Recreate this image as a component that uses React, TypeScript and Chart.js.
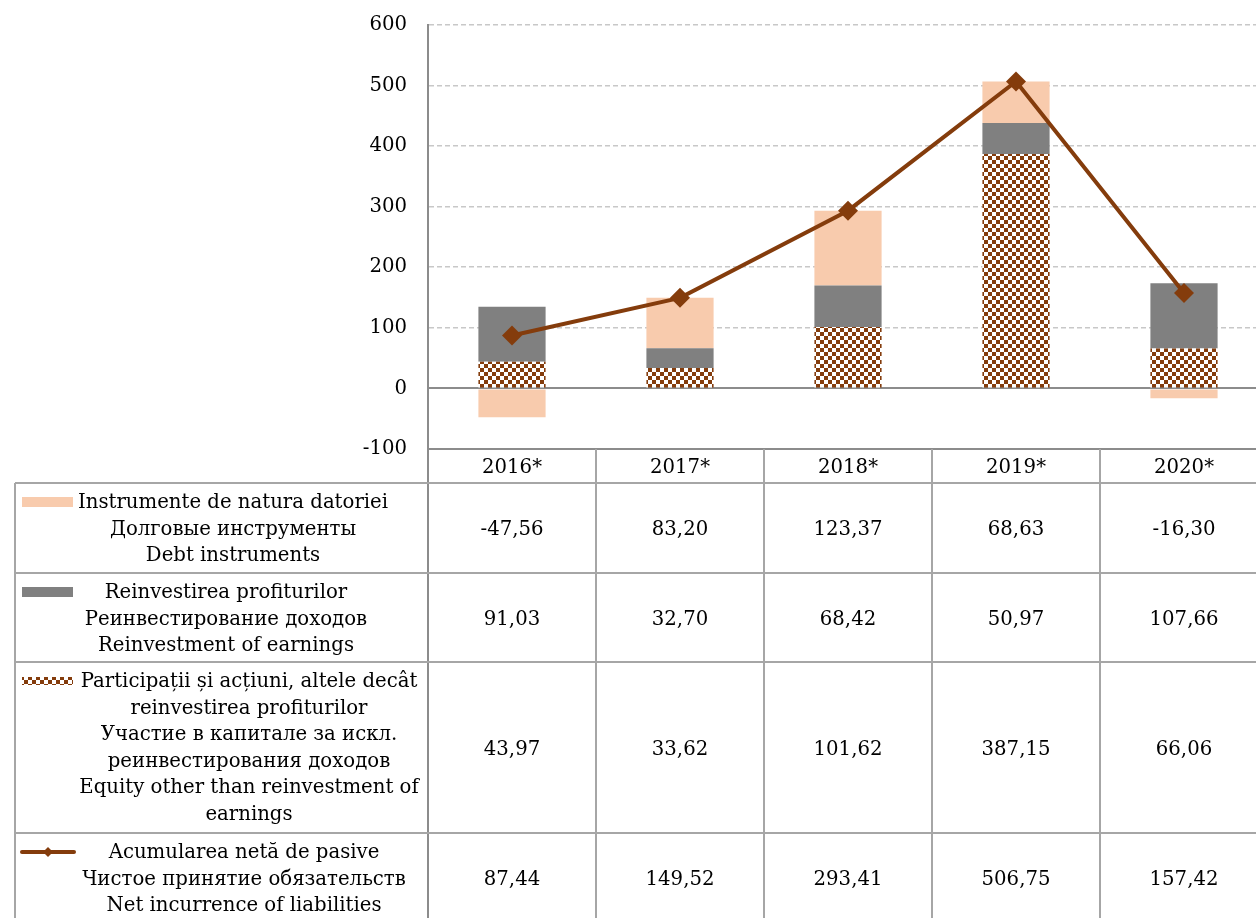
import React, { useEffect, useRef } from "react";
import { Chart, registerables } from "chart.js";

Chart.register(...registerables);

const categories = ["2016*", "2017*", "2018*", "2019*", "2020*"];
const debtInstruments = [-47.56, 83.2, 123.37, 68.63, -16.3];
const reinvestmentOfEarnings = [91.03, 32.7, 68.42, 50.97, 107.66];
const equityOther = [43.97, 33.62, 101.62, 387.15, 66.06];
const netIncurrence = [87.44, 149.52, 293.41, 506.75, 157.42];

const yMin = -100;
const yMax = 600;
const yStep = 100;

const debtLabel = ["Instrumente de natura datoriei", "Долговые инструменты", "Debt instruments"];
const reinvestLabel = ["Reinvestirea profiturilor", "Реинвестирование доходов", "Reinvestment of earnings"];
const equityLabel = [
  "Participații și acțiuni, altele decât",
  "reinvestirea profiturilor",
  "Участие в капитале за искл.",
  "реинвестирования доходов",
  "Equity other than reinvestment of",
  "earnings",
];
const netLabel = ["Acumularea netă de pasive", "Чистое принятие обязательств", "Net incurrence of liabilities"];

const COLOR_DEBT = "#F8CBAD";
const COLOR_REINV = "#808080";
const COLOR_BROWN = "#843C0C";
const FONT_FAMILY = "'DejaVu Serif', serif";
const FONT_SIZE = 19.7;

function makePattern(): CanvasPattern | string {
  const c = document.createElement("canvas");
  const s = 4;
  c.width = s * 2;
  c.height = s * 2;
  const g = c.getContext("2d");
  if (!g) return COLOR_BROWN;
  g.fillStyle = "#ffffff";
  g.fillRect(0, 0, s * 2, s * 2);
  g.fillStyle = COLOR_BROWN;
  g.fillRect(0, 0, s, s);
  g.fillRect(s, s, s, s);
  const p = g.createPattern(c, "repeat");
  return p || COLOR_BROWN;
}

const fmt = (v: number) => v.toFixed(2).replace(".", ",");

export default function App() {
  const ref = useRef<HTMLCanvasElement | null>(null);

  useEffect(() => {
    const canvas = ref.current;
    if (!canvas) return;
    const pattern = makePattern();

    const rows = [
      { label: debtLabel, values: debtInstruments, key: "rect", color: COLOR_DEBT, cx: 233 },
      { label: reinvestLabel, values: reinvestmentOfEarnings, key: "rect", color: COLOR_REINV, cx: 226 },
      { label: equityLabel, values: equityOther, key: "pattern", color: pattern, cx: 249 },
      { label: netLabel, values: netIncurrence, key: "line", color: COLOR_BROWN, cx: 244 },
    ];

    const tablePlugin = {
      id: "dataTable",
      afterDraw(chart: any) {
        const { ctx, chartArea, scales } = chart;
        const xs = scales.x;
        const n = categories.length;
        const colW = xs.getPixelForValue(1) - xs.getPixelForValue(0);
        const left0 = xs.getPixelForValue(0) - colW / 2;
        const top = chartArea.bottom;
        const rowTops = [top + 34, top + 124, top + 213, top + 384];
        const bottom = chart.height + 20;
        const tableLeft = 15;
        const right = left0 + n * colW;

        ctx.save();
        const line = (x1: number, y1: number, x2: number, y2: number) => {
          ctx.beginPath();
          ctx.moveTo(x1, y1);
          ctx.lineTo(x2, y2);
          ctx.stroke();
        };
        ctx.strokeStyle = "#A6A6A6";
        ctx.lineWidth = 2;
        for (let i = 1; i <= n; i++) {
          const xx = Math.round(left0 + i * colW);
          line(xx, top, xx, bottom);
        }
        ctx.strokeStyle = "#8C8C8C";
        line(Math.round(left0), top, Math.round(left0), bottom);
        ctx.strokeStyle = "#A6A6A6";
        line(tableLeft, rowTops[0], tableLeft, bottom);
        rowTops.forEach((ry) => line(tableLeft, ry, right, ry));

        ctx.fillStyle = "#000";
        ctx.font = `${FONT_SIZE}px ${FONT_FAMILY}`;
        ctx.textAlign = "center";
        ctx.textBaseline = "alphabetic";
        categories.forEach((c, i) => {
          ctx.fillText(c, xs.getPixelForValue(i), top + 24);
        });

        const lineStep = 26.6;
        rows.forEach((r, ri) => {
          const rt = rowTops[ri];
          const rb = ri < rowTops.length - 1 ? rowTops[ri + 1] : rt + 90;
          const ky = rt + 19;
          if (r.key === "rect") {
            ctx.fillStyle = r.color;
            ctx.fillRect(22, ky - 5, 51, 10);
          } else if (r.key === "pattern") {
            ctx.fillStyle = r.color;
            ctx.fillRect(22, ky - 4, 51, 8);
          } else {
            ctx.strokeStyle = COLOR_BROWN;
            ctx.lineWidth = 4;
            ctx.lineCap = "round";
            line(22, ky, 74, ky);
            ctx.fillStyle = COLOR_BROWN;
            ctx.beginPath();
            ctx.moveTo(48, ky - 5);
            ctx.lineTo(53, ky);
            ctx.lineTo(48, ky + 5);
            ctx.lineTo(43, ky);
            ctx.closePath();
            ctx.fill();
          }
          ctx.fillStyle = "#000";
          r.label.forEach((t, li) => {
            ctx.fillText(t, r.cx, rt + 25 + li * lineStep);
          });
          const vy = (rt + rb) / 2 + 7;
          r.values.forEach((v, i) => {
            ctx.fillText(fmt(v), xs.getPixelForValue(i), vy);
          });
        });
        ctx.restore();
      },
    };

    const barCommon = { barPercentage: 0.4, categoryPercentage: 1, order: 1, stack: "s" };

    const chart = new Chart(canvas, {
      data: {
        labels: categories,
        datasets: [
          {
            type: "line",
            label: netLabel[2],
            data: netIncurrence,
            borderColor: COLOR_BROWN,
            backgroundColor: COLOR_BROWN,
            borderWidth: 4,
            pointStyle: "rectRot",
            pointRadius: 10,
            pointBorderWidth: 0,
            pointBackgroundColor: COLOR_BROWN,
            tension: 0,
            order: 0,
            stack: "line",
          } as any,
          { type: "bar", label: equityLabel[4], data: equityOther, backgroundColor: pattern, ...barCommon } as any,
          { type: "bar", label: reinvestLabel[2], data: reinvestmentOfEarnings, backgroundColor: COLOR_REINV, ...barCommon } as any,
          { type: "bar", label: debtLabel[2], data: debtInstruments, backgroundColor: COLOR_DEBT, ...barCommon } as any,
        ],
      },
      options: {
        animation: false,
        responsive: false,
        layout: { autoPadding: false, padding: { left: 0, right: 12, top: 25, bottom: 469 } },
        plugins: { legend: { display: false }, tooltip: { enabled: false } },
        scales: {
          x: { display: false, stacked: true, offset: true },
          y: {
            stacked: true,
            min: yMin,
            max: yMax,
            ticks: {
              stepSize: yStep,
              color: "#000",
              font: { family: FONT_FAMILY, size: FONT_SIZE },
              padding: 0,
            },
            grid: {
              drawTicks: true,
              tickLength: 21,
              tickColor: "rgba(0,0,0,0)",
              color: (c: any) =>
                c.tick && (c.tick.value === 0 || c.tick.value === yMin) ? "#8C8C8C" : "#C8C8C8",
              lineWidth: (c: any) => (c.tick && (c.tick.value === 0 || c.tick.value === yMin) ? 2 : 1.6),
            },
            border: {
              display: true,
              color: "#8C8C8C",
              width: 2,
              dash: (c: any) => (c.tick && c.tick.value !== 0 && c.tick.value !== yMin ? [5, 3] : []),
            },
            afterFit: (s: any) => {
              s.width = 428;
            },
          } as any,
        },
      },
      plugins: [tablePlugin],
    } as any);

    return () => chart.destroy();
  }, []);

  return (
    <div style={{ position: "absolute", left: 0, top: 0, width: 1256, height: 918, overflow: "hidden", background: "#fff" }}>
      <canvas ref={ref} width={1280} height={918} style={{ display: "block", width: 1280, height: 918 }} />
    </div>
  );
}
